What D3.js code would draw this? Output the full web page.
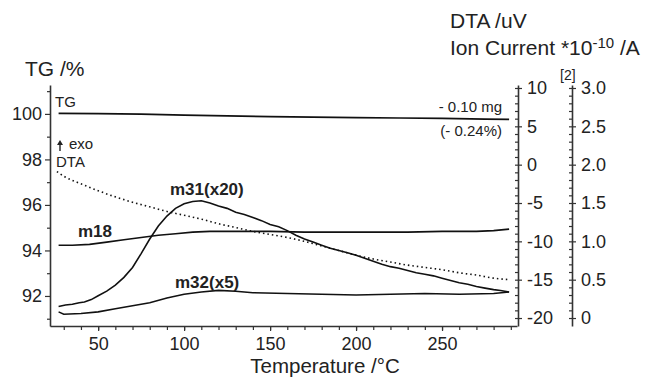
<!DOCTYPE html>
<html>
<head>
<meta charset="utf-8">
<script src="https://cdn.jsdelivr.net/npm/d3@7"></script>
<style>
  body { margin: 0; background: #fff; }
  svg text { font-family: "Liberation Sans", Arial, sans-serif; fill: #222; }
  .axis path, .axis line { stroke: #333; }
</style>
</head>
<body>
<div id="chart"></div>
<script>
// temperature (°C) / value pairs
const tgData = [[27, 100.02], [50, 100.01], [75, 99.99], [100, 99.95], [125, 99.91], [150, 99.88],
  [175, 99.86], [200, 99.84], [225, 99.82], [250, 99.80], [275, 99.77], [289, 99.76]];

const dtaData = [[26, -0.9], [30, -1.5], [40, -2.5], [50, -3.4], [60, -4.2], [70, -4.9], [80, -5.5],
  [90, -6.1], [100, -6.6], [110, -7.1], [120, -7.7], [130, -8.2], [140, -8.7], [150, -9.1],
  [160, -9.5], [170, -10.0], [180, -10.6], [190, -11.2], [200, -11.8], [210, -12.3], [220, -12.7],
  [230, -13.1], [240, -13.4], [250, -13.7], [260, -14.1], [270, -14.4], [280, -14.8], [289, -15.0]];

const m31Data = [[27, 0.15], [31, 0.17], [35, 0.18], [39, 0.20], [42, 0.21], [46, 0.24], [50, 0.29],
  [55, 0.35], [60, 0.43], [65, 0.53], [70, 0.66], [75, 0.84], [80, 1.03], [85, 1.20], [90, 1.33],
  [95, 1.43], [100, 1.49], [105, 1.52], [110, 1.53], [115, 1.50], [120, 1.46], [125, 1.43],
  [130, 1.38], [135, 1.35], [140, 1.31], [145, 1.27], [150, 1.22], [155, 1.19], [160, 1.14],
  [165, 1.08], [170, 1.03], [175, 0.99], [180, 0.95], [185, 0.91], [190, 0.88], [195, 0.85],
  [200, 0.82], [205, 0.78], [210, 0.74], [215, 0.70], [220, 0.67], [225, 0.65], [230, 0.62],
  [235, 0.59], [240, 0.57], [245, 0.55], [250, 0.52], [255, 0.49], [260, 0.46], [265, 0.44],
  [270, 0.41], [275, 0.39], [280, 0.37], [284, 0.36], [289, 0.34]];

const m18Data = [[27, 0.95], [35, 0.95], [45, 0.96], [55, 0.99], [65, 1.02], [75, 1.05], [85, 1.08],
  [95, 1.10], [105, 1.12], [115, 1.13], [130, 1.13], [150, 1.13], [170, 1.12], [190, 1.12],
  [210, 1.12], [230, 1.12], [250, 1.13], [270, 1.13], [280, 1.14], [289, 1.16]];

const m32Data = [[27, 0.08], [30, 0.05], [40, 0.06], [50, 0.08], [60, 0.12], [70, 0.16], [80, 0.20],
  [90, 0.26], [100, 0.31], [110, 0.34], [120, 0.36], [130, 0.35], [140, 0.33], [160, 0.32],
  [180, 0.31], [200, 0.30], [220, 0.31], [240, 0.32], [260, 0.31], [280, 0.32], [289, 0.34]];

const xTicks = [50, 100, 150, 200, 250];
const tgTicks = [92, 94, 96, 98, 100];
const dtaTicks = [-20, -15, -10, -5, 0, 5, 10];
const ionTicks = [0, 0.5, 1.0, 1.5, 2.0, 2.5, 3.0];

const width = 651;
const height = 378;

const svg = d3.select('#chart').append('svg')
  .attr('width', width)
  .attr('height', height);

// scales
const x = d3.scaleLinear().domain([22, 293.6]).range([50, 517]);
const yTG = d3.scaleLinear().domain([90.68, 101.27]).range([326, 85]);
const yDTA = d3.scaleLinear().domain([-21.04, 10.39]).range([326, 85]);
const yIon = d3.scaleLinear().domain([-0.104, 3.039]).range([326, 85]);

function styleAxis(g, size) {
  g.attr('class', 'axis');
  g.selectAll('path').attr('stroke-width', 1.6);
  g.selectAll('line').attr('stroke-width', 1.2);
  g.selectAll('text').style('font-size', size + 'px').attr('fill', '#222');
}

// bottom axis: minor every 10, major labelled
svg.append('g')
  .attr('transform', 'translate(0,326)')
  .call(d3.axisBottom(x).tickValues(d3.range(30, 291, 10)).tickSize(4).tickSizeOuter(0).tickFormat(''))
  .call(g => styleAxis(g, 18));
svg.append('g')
  .attr('transform', 'translate(0,326)')
  .call(d3.axisBottom(x).tickValues(xTicks).tickSize(5).tickPadding(6).tickSizeOuter(0))
  .call(g => { styleAxis(g, 18); g.select('.domain').remove(); });

// left TG axis
svg.append('g')
  .attr('transform', 'translate(50,0)')
  .call(d3.axisLeft(yTG).tickValues([91, 93, 95, 97, 99, 101]).tickSize(3).tickSizeOuter(0).tickFormat(''))
  .call(g => styleAxis(g, 18));
svg.append('g')
  .attr('transform', 'translate(50,0)')
  .call(d3.axisLeft(yTG).tickValues(tgTicks).tickSize(5).tickPadding(3).tickFormat(d => d))
  .call(g => { styleAxis(g, 18); g.select('.domain').remove(); });

// right DTA axis
svg.append('g')
  .attr('transform', 'translate(518,0)')
  .call(d3.axisLeft(yDTA).tickValues(d3.range(-20, 11, 1)).tickSize(3).tickSizeOuter(0).tickFormat(''))
  .call(g => styleAxis(g, 18));
svg.append('g')
  .attr('transform', 'translate(518,0)')
  .call(d3.axisRight(yDTA).tickValues(dtaTicks).tickSize(4).tickPadding(5).tickFormat(d => String(d)))
  .call(g => { styleAxis(g, 18); g.select('.domain').remove(); });

// right ion current axis
svg.append('g')
  .attr('transform', 'translate(572,0)')
  .call(d3.axisLeft(yIon).tickValues(d3.range(0, 31, 1).map(v => v / 10)).tickSize(3).tickSizeOuter(0).tickFormat(''))
  .call(g => styleAxis(g, 18));
svg.append('g')
  .attr('transform', 'translate(572,0)')
  .call(d3.axisRight(yIon).tickValues(ionTicks).tickSize(4).tickPadding(5).tickFormat(d => d === 0 ? '0' : d3.format('.1f')(d)))
  .call(g => { styleAxis(g, 18); g.select('.domain').remove(); });

// curves
const line = y => d3.line().x(d => x(d[0])).y(d => y(d[1]));

svg.append('path').datum(tgData)
  .attr('fill', 'none').attr('stroke', '#111').attr('stroke-width', 1.7)
  .attr('d', line(yTG));

svg.append('path').datum(dtaData)
  .attr('fill', 'none').attr('stroke', '#111').attr('stroke-width', 1.6)
  .style('stroke-dasharray', '1.5,3')
  .attr('d', line(yDTA).curve(d3.curveMonotoneX));

[m18Data, m31Data, m32Data].forEach(data => {
  svg.append('path').datum(data)
    .attr('fill', 'none').attr('stroke', '#111').attr('stroke-width', 1.6)
    .attr('d', line(yIon));
});

// axis titles
svg.append('text').attr('x', 25).attr('y', 76).text('TG /%').style('font-size', '21px');
svg.append('text').attr('x', 450).attr('y', 28).text('DTA /uV').style('font-size', '21px');
const ion = svg.append('text').attr('x', 450).attr('y', 55).style('font-size', '21px');
ion.append('tspan').text('Ion Current *10');
ion.append('tspan').attr('dy', -7).style('font-size', '15px').text('-10');
ion.append('tspan').attr('dy', 7).text(' /A');
svg.append('text').attr('x', 560).attr('y', 80).text('[2]').style('font-size', '14px');
svg.append('text').attr('x', 325).attr('y', 373).attr('text-anchor', 'middle')
  .text('Temperature /°C').style('font-size', '20.5px');

// annotations
svg.append('text').attr('x', 55).attr('y', 107).text('TG').style('font-size', '15px');
svg.append('text').attr('x', 69).attr('y', 149).text('exo').style('font-size', '15px');
svg.append('line').attr('x1', 60).attr('x2', 60).attr('y1', 151).attr('y2', 143)
  .attr('stroke', '#222').attr('stroke-width', 1.4);
svg.append('path').attr('d', 'M57,145 L60,140 L63,145 Z').attr('fill', '#222');
svg.append('text').attr('x', 56).attr('y', 167).text('DTA').style('font-size', '15px');
svg.append('text').attr('x', 502).attr('y', 112).attr('text-anchor', 'end').text('- 0.10 mg').style('font-size', '15px');
svg.append('text').attr('x', 502).attr('y', 136).attr('text-anchor', 'end').text('(- 0.24%)').style('font-size', '15px');

svg.append('text').attr('x', 170).attr('y', 195).text('m31(x20)').style('font-size', '17px').style('font-weight', 'bold');
svg.append('text').attr('x', 78).attr('y', 237).text('m18').style('font-size', '17px').style('font-weight', 'bold');
svg.append('text').attr('x', 175).attr('y', 288).text('m32(x5)').style('font-size', '17px').style('font-weight', 'bold');
</script>
</body>
</html>
